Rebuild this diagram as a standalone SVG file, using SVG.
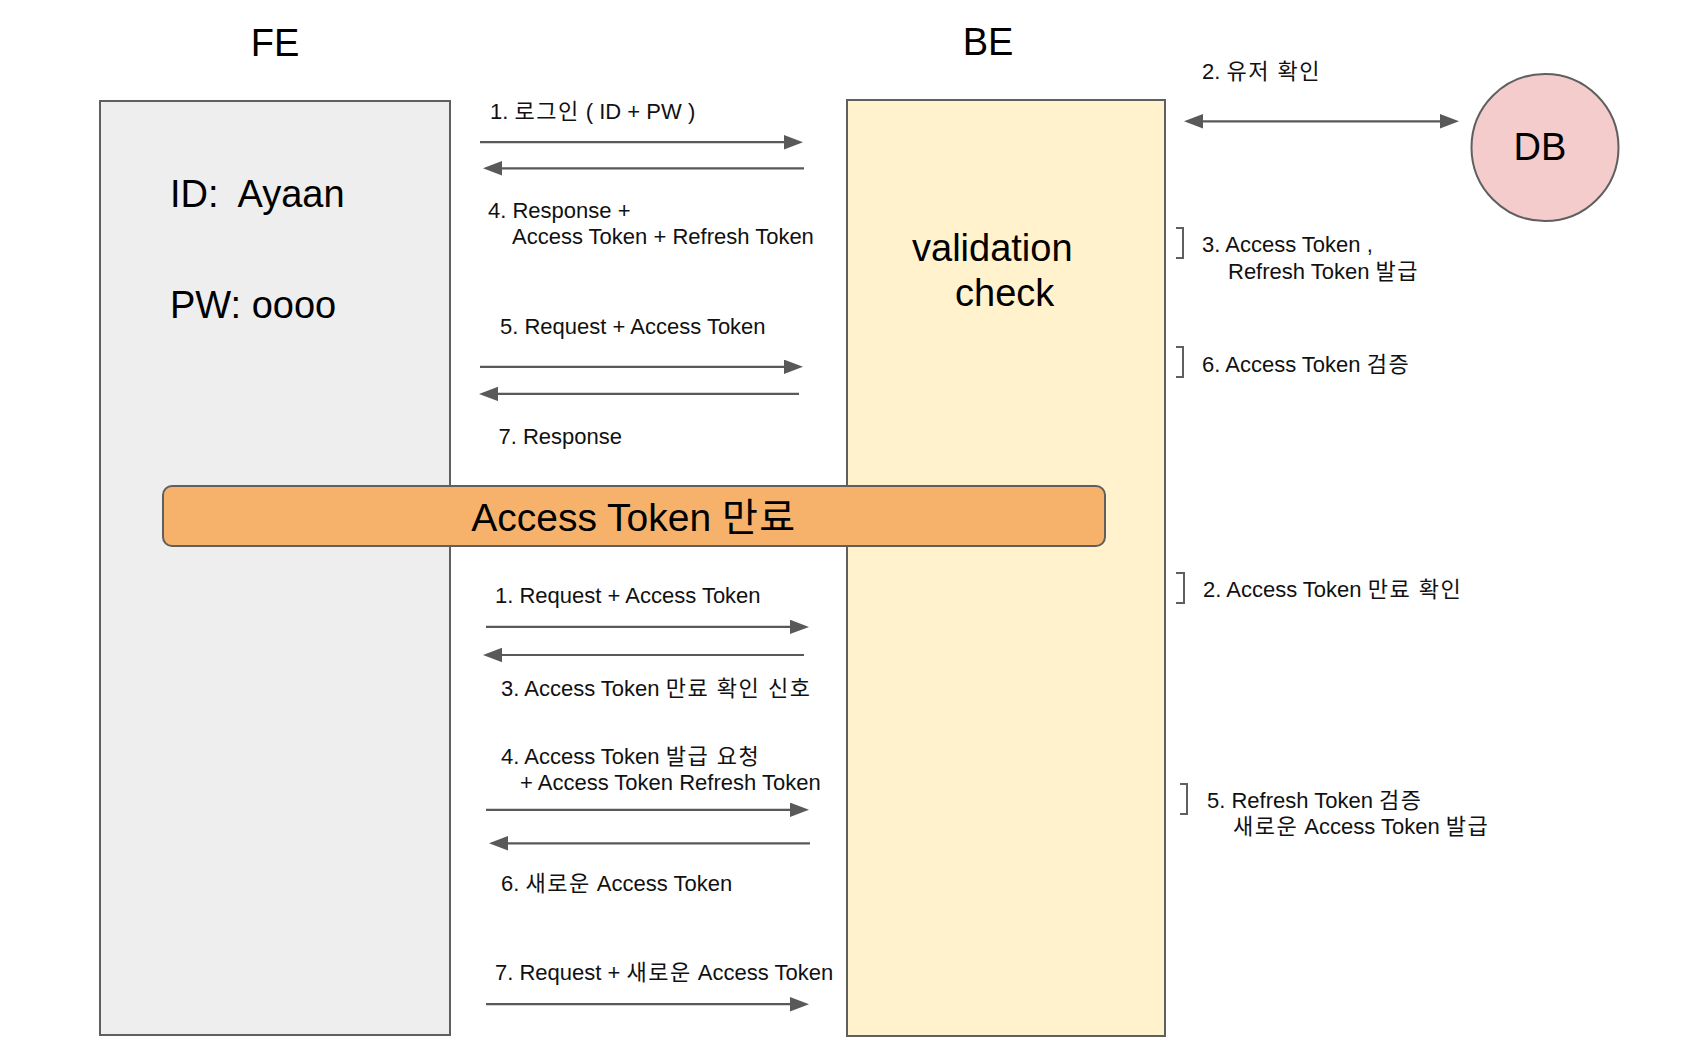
<svg xmlns="http://www.w3.org/2000/svg" width="1690" height="1062" viewBox="0 0 1690 1062">
<style>
text { font-family: "Liberation Sans", "Noto Sans CJK KR", sans-serif; fill: #000; white-space: pre; }
.big { font-size: 38px; }
.lbl { font-size: 22px; fill: #111; }
.k { letter-spacing: 1.5px; }
.box { stroke: #5f5f5f; stroke-width: 2; }
.arr { stroke: #595959; stroke-width: 2.2; fill: none; }
.br { stroke: #5f5f5f; stroke-width: 2; fill: none; }
</style>
<defs>
<marker id="ah" markerUnits="userSpaceOnUse" markerWidth="20" markerHeight="16" refX="1" refY="7.2" orient="auto-start-reverse">
<path d="M0,0 L19,7.2 L0,14.4 z" fill="#595959"/>
</marker>
</defs>
<rect width="1690" height="1062" fill="#ffffff"/>

<g id="fe-title"><text class="big" x="275" y="56" text-anchor="middle">FE</text></g>
<g id="be-title"><text class="big" x="988" y="55" text-anchor="middle">BE</text></g>

<g id="fe">
<rect class="box" x="100" y="101" width="350" height="934" fill="#eeeeee"/>
<text class="big" x="170" y="207" xml:space="preserve">ID:  Ayaan</text>
<text class="big" x="170" y="318">PW: oooo</text>
</g>

<g id="be">
<rect class="box" x="847" y="100" width="318" height="936" fill="#fff2cc"/>
<text x="912" y="261" font-size="38">validation</text>
<text x="955" y="306" font-size="38">check</text>
</g>

<g id="db">
<circle class="box" cx="1545" cy="147.5" r="73.5" fill="#f4cccc"/>
<text class="big" x="1540" y="160" text-anchor="middle">DB</text>
</g>

<g id="expired">
<rect class="box" x="163" y="486" width="942" height="60" rx="9" ry="9" fill="#f6b26b"/>
<text x="634" y="531" font-size="39" text-anchor="middle">Access Token <tspan class="k">만료</tspan></text>
</g>

<g id="connectors">
<line class="arr" x1="480" y1="142.2" x2="785" y2="142.2" marker-end="url(#ah)"/>
<line class="arr" x1="804" y1="168.3" x2="501" y2="168.3" marker-end="url(#ah)"/>
<line class="arr" x1="480" y1="366.8" x2="785" y2="366.8" marker-end="url(#ah)"/>
<line class="arr" x1="799" y1="393.9" x2="497" y2="393.9" marker-end="url(#ah)"/>
<line class="arr" x1="486" y1="626.9" x2="791" y2="626.9" marker-end="url(#ah)"/>
<line class="arr" x1="804" y1="655" x2="501" y2="655" marker-end="url(#ah)"/>
<line class="arr" x1="486" y1="809.8" x2="791" y2="809.8" marker-end="url(#ah)"/>
<line class="arr" x1="810" y1="843.3" x2="507" y2="843.3" marker-end="url(#ah)"/>
<line class="arr" x1="486" y1="1004.2" x2="791" y2="1004.2" marker-end="url(#ah)"/>
<line class="arr" x1="1202" y1="121.3" x2="1441" y2="121.3" marker-start="url(#ah)" marker-end="url(#ah)"/>
</g>

<g id="fe-be-labels">
<text class="lbl" x="490" y="119">1. <tspan class="k">로그인</tspan> ( ID + PW )</text>
<text class="lbl" x="488" y="218">4. Response +</text>
<text class="lbl" x="512" y="244">Access Token + Refresh Token</text>
<text class="lbl" x="500" y="334">5. Request + Access Token</text>
<text class="lbl" x="498.5" y="444">7. Response</text>
<text class="lbl" x="495" y="603">1. Request + Access Token</text>
<text class="lbl" x="501" y="696">3. Access Token <tspan class="k">만료 확인 신호</tspan></text>
<text class="lbl" x="501" y="764">4. Access Token <tspan class="k">발급 요청</tspan></text>
<text class="lbl" x="520" y="790">+ Access Token Refresh Token</text>
<text class="lbl" x="501" y="891">6. <tspan class="k">새로운</tspan> Access Token</text>
<text class="lbl" x="495" y="980">7. Request + <tspan class="k">새로운</tspan> Access Token</text>
</g>

<g id="be-notes">
<text class="lbl" x="1202" y="79">2. <tspan class="k">유저 확인</tspan></text>
<path class="br" d="M1176,228 H1183 V258 H1176"/>
<text class="lbl" x="1202" y="252">3. Access Token ,</text>
<text class="lbl" x="1228" y="279">Refresh Token <tspan class="k">발급</tspan></text>
<path class="br" d="M1176,347 H1183 V377 H1176"/>
<text class="lbl" x="1202" y="372">6. Access Token <tspan class="k">검증</tspan></text>
<path class="br" d="M1176,573 H1184 V603 H1176"/>
<text class="lbl" x="1203" y="597">2. Access Token <tspan class="k">만료 확인</tspan></text>
<path class="br" d="M1180,784 H1187 V814 H1180"/>
<text class="lbl" x="1207" y="808">5. Refresh Token <tspan class="k">검증</tspan></text>
<text class="lbl" x="1233" y="834"><tspan class="k">새로운</tspan> Access Token <tspan class="k">발급</tspan></text>
</g>
</svg>
